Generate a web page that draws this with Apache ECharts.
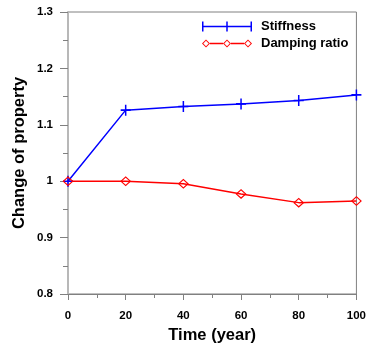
<!DOCTYPE html>
<html>
<head>
<meta charset="utf-8">
<script src="https://cdn.jsdelivr.net/npm/echarts@6/dist/echarts.min.js"></script>
<style>html,body{margin:0;padding:0;background:#fff}#c{width:369px;height:349px}</style>
</head>
<body>
<div id="c"></div>
<script>
var years = [0, 20, 40, 60, 80, 100];
var stiffness = [1.0, 1.126, 1.1325, 1.137, 1.143, 1.153];
var damping = [1.0, 1.0, 0.9955, 0.9775, 0.962, 0.965];
var seriesNames = ['Stiffness', 'Damping ratio'];

var plusPath = 'path://M4.25,0L5.75,0L5.75,10L4.25,10Z M0,4.25L10,4.25L10,5.75L0,5.75Z';
var diamondPath = 'path://M0,5L5,0.5L10,5L5,9.5Z M1.5,5L5,8.1L8.5,5L5,1.9Z';
var bboxDots = ' M0,0L0.01,0L0.01,0.01Z M54,10L53.99,10L53.99,9.99Z';
var stiffIcon = 'path://M0,4.25L50,4.25L50,5.75L0,5.75Z M0,0L1.5,0L1.5,10L0,10Z M24.25,0L25.75,0L25.75,10L24.25,10Z M48.5,0L50,0L50,10L48.5,10Z' + bboxDots;
function dia(cx){
  return 'M'+(cx-4)+',5L'+cx+',1L'+(cx+4)+',5L'+cx+',9Z M'+(cx-2.7)+',5L'+cx+',7.7L'+(cx+2.7)+',5L'+cx+',2.3Z';
}
var dampIcon = 'path://' + dia(4) + ' ' + dia(25) + ' ' + dia(46) +
  ' M8,4.3L21,4.3L21,5.7L8,5.7Z M29,4.3L42,4.3L42,5.7L29,5.7Z' + bboxDots;

var legendText = {fontSize: 13, fontWeight: 'bold', color: '#000', fontFamily: 'Liberation Sans, Arial, sans-serif'};

var chart = echarts.init(document.getElementById('c'), null, {renderer:'canvas'});
chart.setOption({
  animation: false,
  backgroundColor: '#fff',
  textStyle: {fontFamily: 'Liberation Sans, Arial, sans-serif'},
  grid: {left: 68, right: 11, top: 12, bottom: 50, show: true, borderColor: '#808080', borderWidth: 1},
  legend: {
    orient: 'vertical', left: 202, top: 20, padding: 0, itemWidth: 54, itemHeight: 10, itemGap: 4,
    textStyle: legendText,
    data: [
      {name: seriesNames[0], icon: stiffIcon, itemStyle: {color: '#0000ff', borderWidth: 0}},
      {name: seriesNames[1], icon: dampIcon, itemStyle: {color: '#ff0000', borderWidth: 0}}
    ]
  },
  xAxis: {
    type: 'value', min: 0, max: 100, interval: 20,
    name: 'Time (year)', nameLocation: 'middle', nameGap: 33, nameMoveOverlap: false,
    nameTextStyle: {fontSize: 16.5, fontWeight: 'bold', color: '#000'},
    axisLine: {lineStyle: {color: '#808080', width: 1}},
    axisTick: {show: true, inside: false, length: 6, lineStyle: {color: '#808080'}},
    minorTick: {show: true, splitNumber: 2, length: 4, lineStyle: {color: '#808080'}},
    axisLabel: {fontSize: 11.5, fontWeight: 'bold', color: '#000', margin: 16},
    splitLine: {show: false}
  },
  yAxis: {
    type: 'value', min: 0.8, max: 1.3, interval: 0.1,
    name: 'Change of property', nameLocation: 'middle', nameGap: 40, nameMoveOverlap: false,
    nameTextStyle: {fontSize: 16.5, fontWeight: 'bold', color: '#000'},
    axisLine: {show: true, lineStyle: {color: '#b8b8b8', width: 2}},
    axisTick: {show: true, inside: false, length: 8, lineStyle: {color: '#808080'}},
    minorTick: {show: true, splitNumber: 2, length: 5, lineStyle: {color: '#808080'}},
    axisLabel: {fontSize: 11.5, fontWeight: 'bold', color: '#000', margin: 15},
    splitLine: {show: false}
  },
  series: [
    {
      name: seriesNames[0], type: 'line',
      data: years.map(function(x, i){ return [x, stiffness[i]]; }),
      symbol: plusPath, symbolSize: [10, 11], showAllSymbol: true,
      lineStyle: {color: '#0000ff', width: 1.5},
      itemStyle: {color: '#0000ff', borderWidth: 0}
    },
    {
      name: seriesNames[1], type: 'line',
      data: years.map(function(x, i){ return [x, damping[i]]; }),
      symbol: diamondPath, symbolSize: [11, 10], showAllSymbol: true,
      lineStyle: {color: '#ff0000', width: 1.5},
      itemStyle: {color: '#ff0000', borderWidth: 0}
    }
  ]
});
</script>
</body>
</html>
